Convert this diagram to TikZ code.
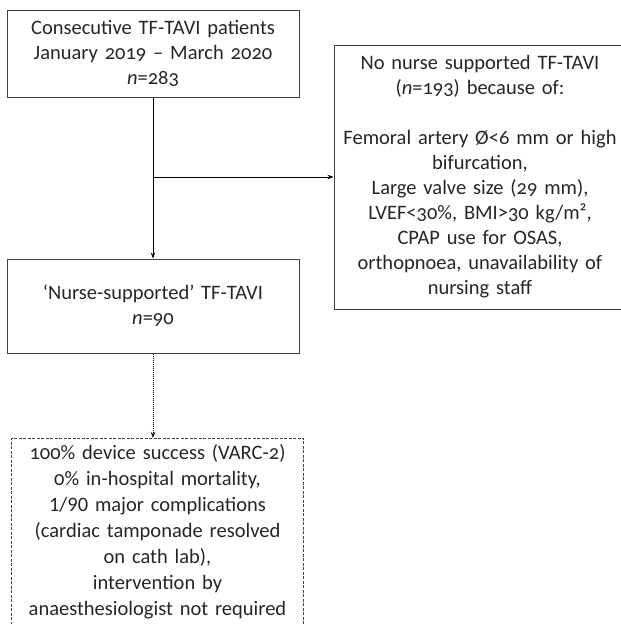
\documentclass[tikz,border=0pt]{standalone}
\usepackage{fontspec}
\setmainfont{Carlito}[Numbers=OldStyle,WordSpace=0.8]
\usetikzlibrary{arrows.meta}
\definecolor{boxgray}{HTML}{404040}
\definecolor{textgray}{HTML}{262626}
\begin{document}
\begin{tikzpicture}[x=1pt,y=-1pt,
  flowbox/.style={draw=boxgray,line width=1pt,align=center,inner sep=2pt,text=textgray,
    font=\fontsize{20.5}{25}\selectfont,minimum width=292pt,text width=286pt},
  dashbox/.style={flowbox,dash pattern=on 3pt off 1.5pt,line width=0.8pt,font=\fontsize{20.5}{26}\selectfont},
  >={Stealth[length=6pt,width=4.5pt]}]
\useasboundingbox (0,0) rectangle (621,624);
\clip (0,0) rectangle (621,624);
\node[flowbox,minimum height=87pt] (total) at (153,53.5)
  {Consecutive TF-TAVI patients\\January 2019 -- March 2020\\\textit{n}=283};
\node[flowbox,minimum height=94pt] (nurse) at (153,306)
  {`Nurse-supported' TF-TAVI\\\textit{n}=90};
\node[flowbox,minimum height=264pt] (nonurse) at (480,177)
  {No nurse supported TF-TAVI\\(\textit{n}=193) because of:\\[25pt]
   Femoral artery Ø<6 mm or high\\bifurcation,\\Large valve size (29 mm),\\
   LVEF<30\%, BMI>30 kg/m²,\\CPAP use for OSAS,\\orthopnoea, unavailability of\\nursing staff};
\node[dashbox,anchor=north,inner ysep=6pt] (result) at (157.5,438)
  {100\% device success (VARC-2)\\0\% in-hospital mortality,\\
   {\addfontfeature{Numbers=Lining}1/90} major complications\\(cardiac tamponade resolved\\on cath lab),\\
   intervention by\\anaesthesiologist not required};
\coordinate (split) at (total.south |- nonurse.west);
\draw[->,line width=1pt] (total) -- (nurse);
\draw[->,line width=1pt] (split) -- (nonurse.west);
\draw[->,line width=1pt,densely dotted] (nurse.south) -- (nurse.south |- result.north);
\end{tikzpicture}
\end{document}
